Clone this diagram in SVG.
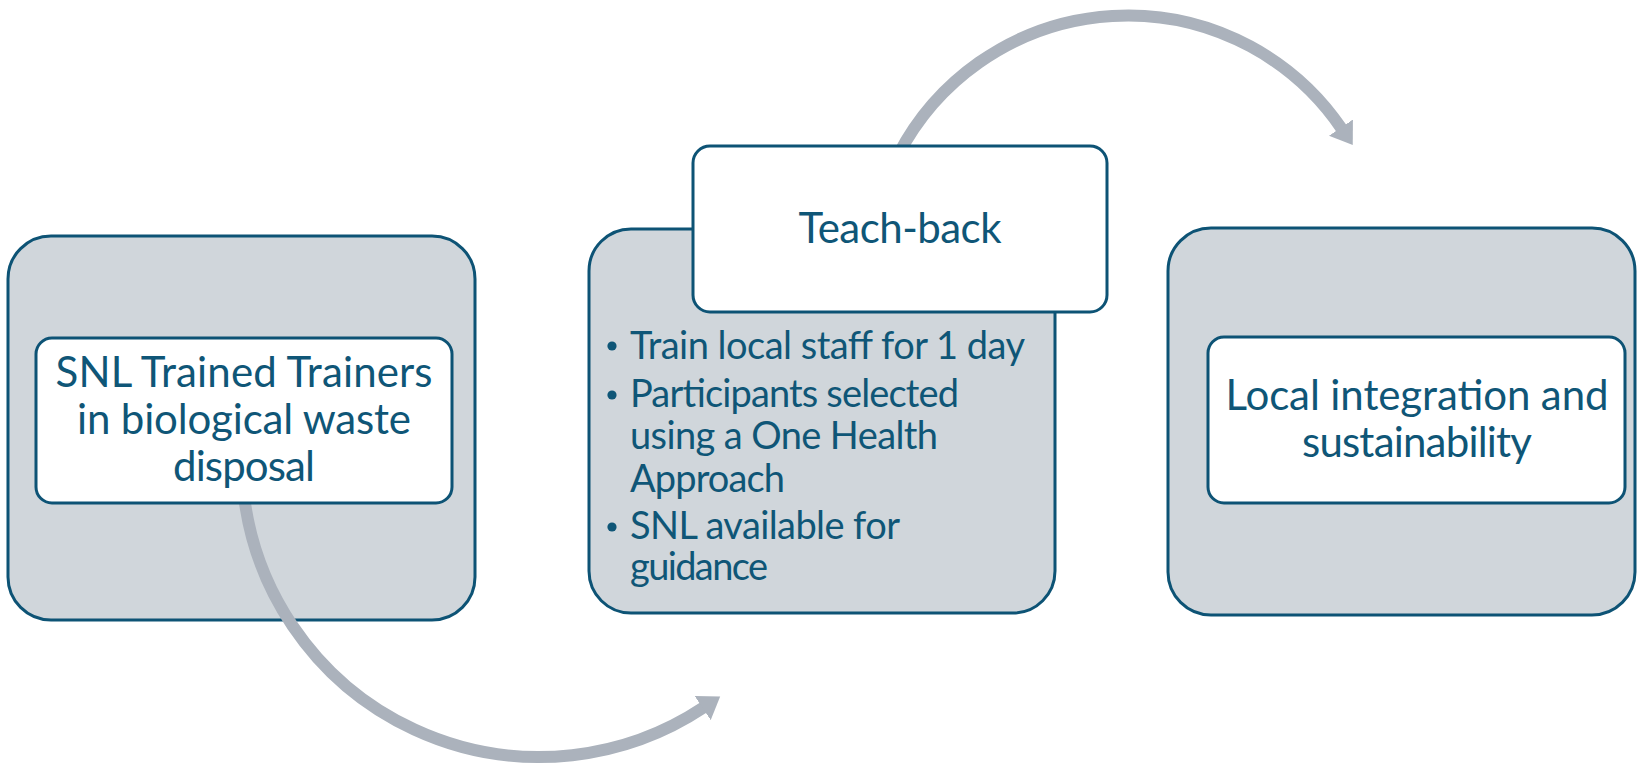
<svg xmlns="http://www.w3.org/2000/svg" width="1637" height="765" viewBox="0 0 1637 765">
  <style>
    .outer { fill: #d0d6db; stroke: #0d5375; stroke-width: 3; }
    .inner { fill: #ffffff; stroke: #0d5375; stroke-width: 3; }
    .lbl { font-family: Lato, "Liberation Sans", sans-serif; font-size: 42px; fill: #0f5677; text-anchor: middle; }
    .bul { font-family: Lato, "Liberation Sans", sans-serif; font-size: 38px; fill: #0f5677; }
    .dot { fill: #0f5677; }
    .conn { fill: none; stroke: #abb2bc; stroke-width: 12; }
  </style>
  <defs>
    <marker id="head" viewBox="0 -15 22 30" markerWidth="22" markerHeight="30" refX="1" refY="0" orient="auto" markerUnits="userSpaceOnUse">
      <path d="M0,-14.5 L21,0 L0,14.5 Z" fill="#abb2bc"/>
    </marker>
  </defs>

  <rect width="1637" height="765" fill="#ffffff"/>

  <!-- outer boxes -->
  <g id="step1">
    <rect class="outer" x="8" y="236" width="467" height="384" rx="43" ry="43"/>
  </g>
  <g id="step2">
    <rect class="outer" x="589" y="229" width="466" height="384" rx="42" ry="42"/>
    <circle class="dot" cx="612" cy="346" r="4.6"/>
    <text class="bul" x="630" y="359" textLength="395">Train local staff for 1 day</text>
    <circle class="dot" cx="612" cy="395" r="4.6"/>
    <text class="bul" x="630" y="407" textLength="329">Participants selected</text>
    <text class="bul" x="630" y="449" textLength="308">using a One Health</text>
    <text class="bul" x="630" y="492" textLength="155">Approach</text>
    <circle class="dot" cx="612" cy="527" r="4.6"/>
    <text class="bul" x="630" y="539" textLength="270">SNL available for</text>
    <text class="bul" x="630" y="580" textLength="138">guidance</text>
  </g>
  <g id="step3">
    <rect class="outer" x="1168" y="228" width="467" height="387" rx="43" ry="43"/>
  </g>

  <!-- connectors -->
  <g id="connectors">
    <path class="conn" d="M 243.9 495 A 297.4 297.4 0 0 0 703.5 707.5" marker-end="url(#head)"/>
    <path class="conn" d="M 898.2 155 A 258.6 258.6 0 0 1 1341.5 128.5" marker-end="url(#head)"/>
  </g>

  <!-- inner label boxes -->
  <g id="step1-label">
    <rect class="inner" x="36" y="338" width="416" height="165" rx="16" ry="16"/>
    <text class="lbl" x="244" y="387" textLength="377">SNL Trained Trainers</text>
    <text class="lbl" x="244" y="434" textLength="334">in biological waste</text>
    <text class="lbl" x="244" y="481" textLength="142">disposal</text>
  </g>
  <g id="step2-label">
    <rect class="inner" x="693" y="146" width="414" height="166" rx="17" ry="17"/>
    <text class="lbl" x="900" y="243" textLength="203">Teach-back</text>
  </g>
  <g id="step3-label">
    <rect class="inner" x="1208" y="337" width="417" height="166" rx="16" ry="16"/>
    <text class="lbl" x="1417" y="410" textLength="383">Local integration and</text>
    <text class="lbl" x="1417" y="457" textLength="230">sustainability</text>
  </g>
</svg>
